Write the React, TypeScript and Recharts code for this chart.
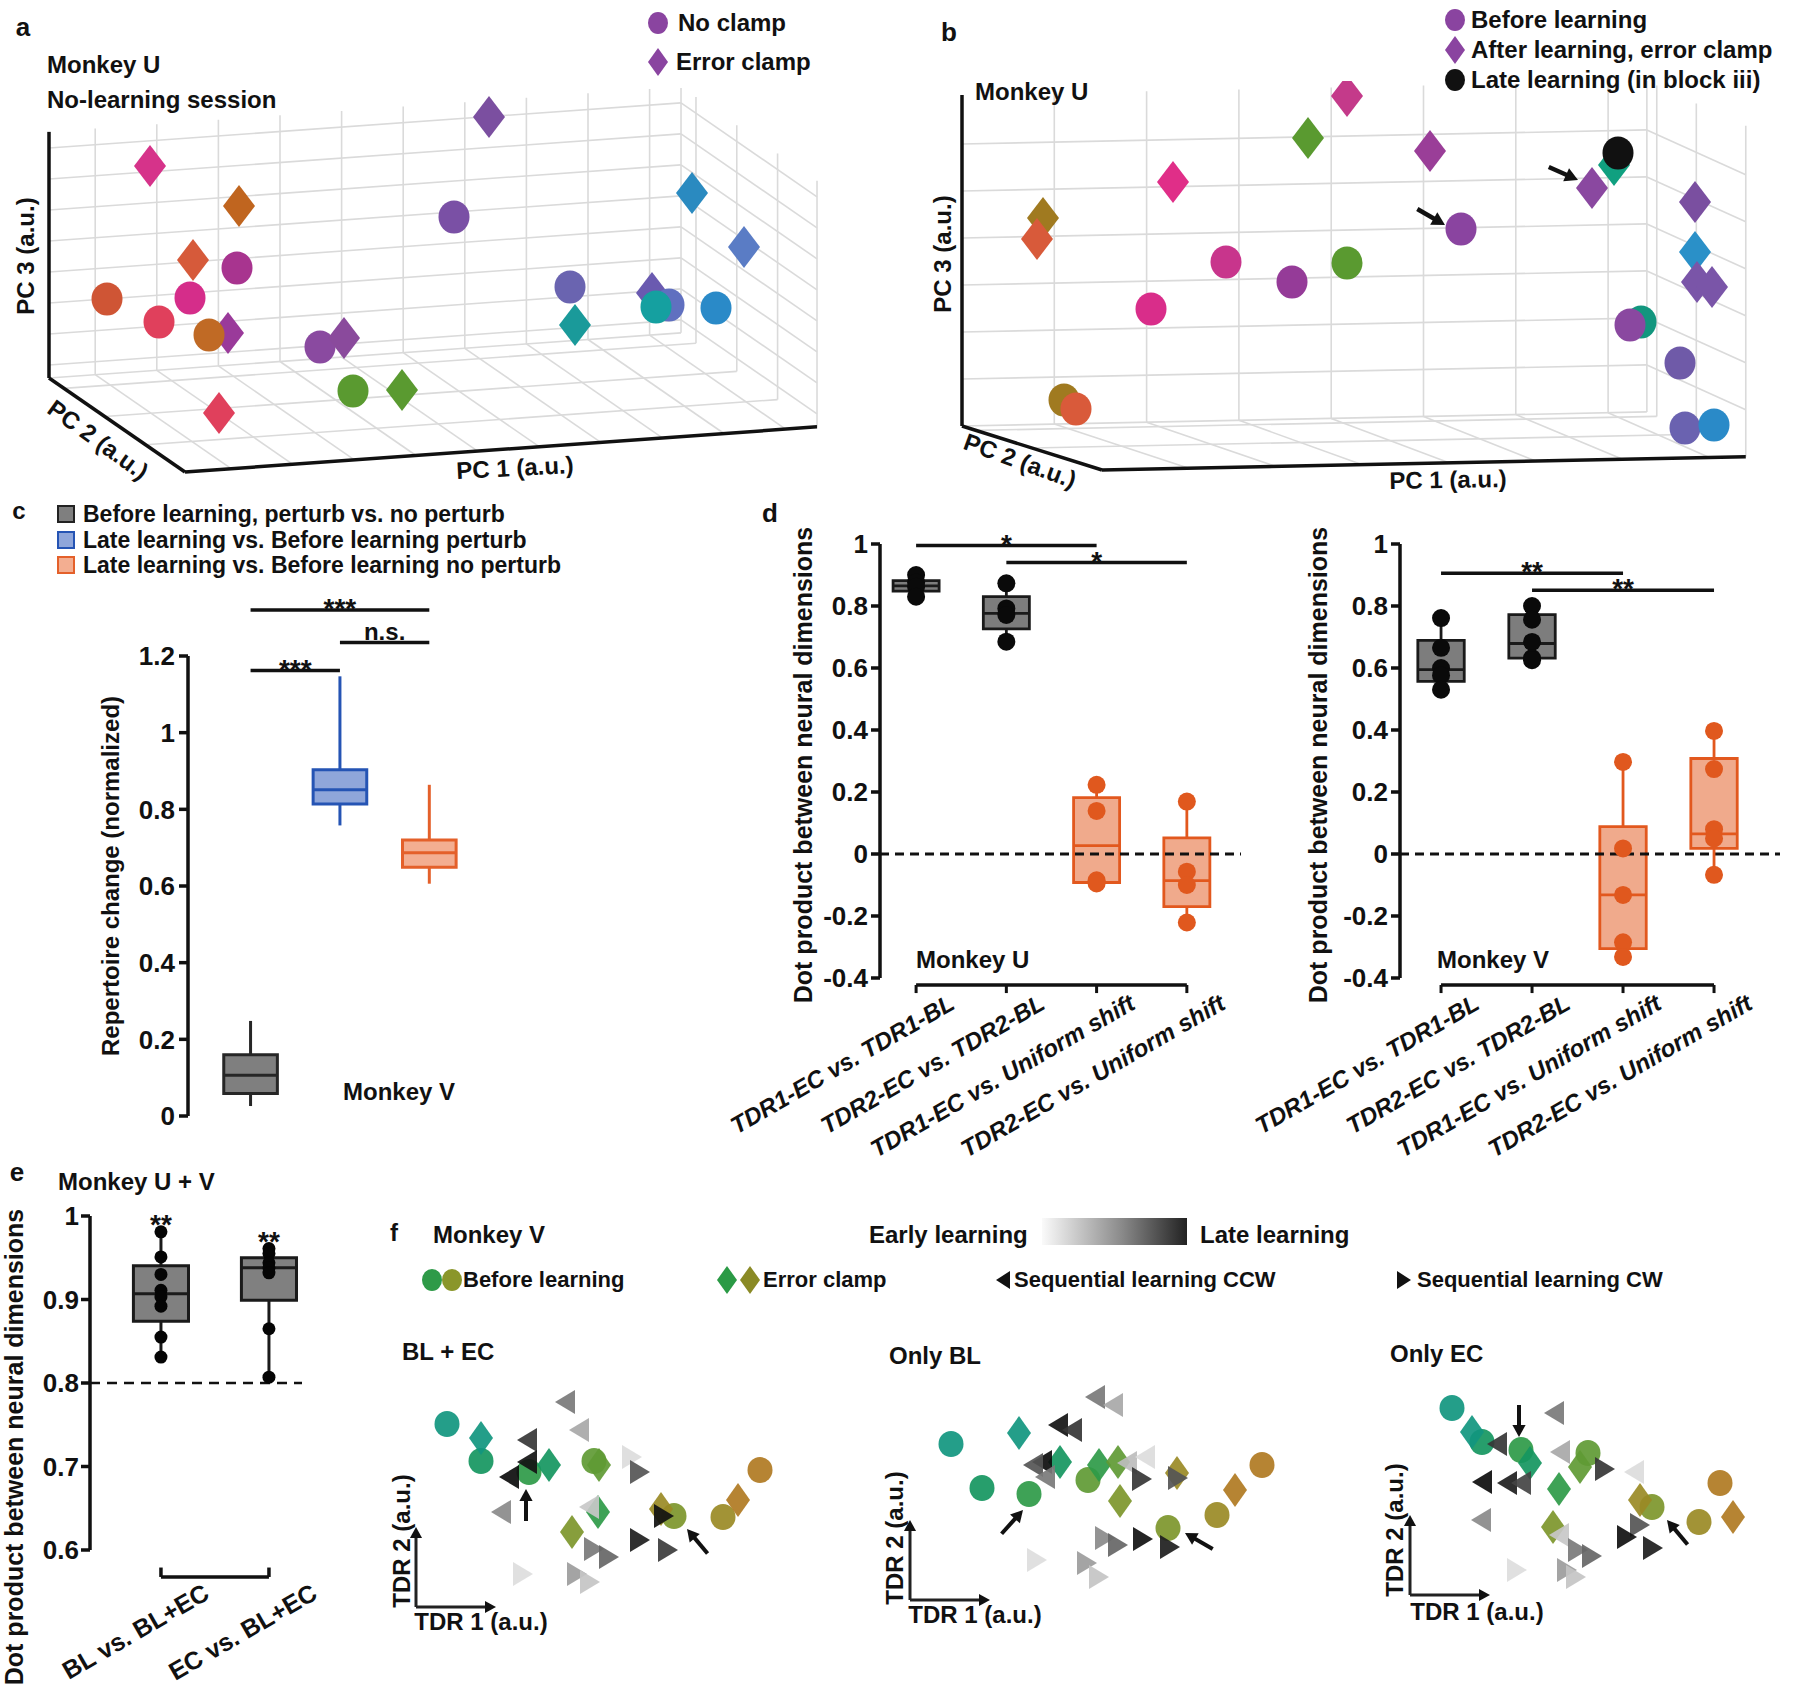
import React from 'react'
import { ScatterChart, Scatter, XAxis, YAxis, ReferenceLine, ReferenceArea } from 'recharts'

const FONT = "'Liberation Sans', Arial, Helvetica, sans-serif"
const INK = '#111111'

// ---------- a: PCA view, Monkey U, no-learning session (projected coords, a.u.) ----------
// kind: o = no clamp, d = error clamp
const aMarks: [string, number, number, string][] = [
  ['d', 10.1, 21.2, '#d6338a'],
  ['d', 19.0, 17.2, '#c0651f'],
  ['d', 44.0, 26.1, '#7b4fa0'],
  ['d', 14.4, 11.8, '#d65a3a'],
  ['d', 17.9, 4.5, '#9a3a9a'],
  ['d', 35.3, -1.2, '#5a9a30'],
  ['d', 17.0, -3.5, '#e0405c'],
  ['d', 64.3, 18.5, '#2a8ac0'],
  ['d', 69.5, 13.1, '#5a7cc5'],
  ['d', 60.3, 8.5, '#6a5ab0'],
  ['d', 52.6, 5.3, '#1a9a9a'],
  ['o', 40.5, 16.1, '#7a50a5'],
  ['o', 18.8, 11.0, '#a8348f'],
  ['o', 5.8, 7.9, '#cf5535'],
  ['o', 14.1, 8.0, '#d52d8a'],
  ['o', 11.0, 5.6, '#e0405c'],
  ['o', 16.0, 4.3, '#c06a25'],
  ['o', 27.1, 3.1, '#8a4aa0'],
  ['d', 29.5, 4.0, '#8a4a9c'],
  ['o', 30.4, -1.3, '#5a9a30'],
  ['o', 52.1, 9.1, '#6a64b0'],
  ['o', 62.0, 7.3, '#6070c0'],
  ['o', 60.7, 7.1, '#15a0a0'],
  ['o', 66.7, 7.0, '#2a8ac8'],
]

// ---------- b: PCA view, Monkey U, learning session ----------
const bMarks: [string, number, number, string][] = [
  ['o', 49.9, 19.7, '#8a44a0'],
  ['o', 26.4, 16.4, '#c8358c'],
  ['o', 33.0, 14.4, '#953b98'],
  ['o', 38.5, 16.3, '#5a9a30'],
  ['o', 18.9, 11.7, '#d92d8a'],
  ['o', 67.9, 10.4, '#12967e'],
  ['o', 66.8, 10.1, '#8a48a0'],
  ['o', 71.8, 6.3, '#6f5aa8'],
  ['o', 72.3, -0.2, '#6a62b0'],
  ['o', 75.2, 0.1, '#2a8ac8'],
  ['o', 10.2, 2.6, '#a07a20'],
  ['o', 11.4, 1.7, '#d95a3a'],
  ['d', 38.5, 33.0, '#c43a8a'],
  ['d', 34.6, 28.8, '#5a9a30'],
  ['d', 46.8, 27.5, '#9a3e98'],
  ['d', 21.1, 24.4, '#e02e88'],
  ['d', 8.1, 20.8, '#a07a20'],
  ['d', 7.5, 18.7, '#d85a3a'],
  ['d', 65.2, 26.1, '#10a080'],
  ['d', 63.0, 23.8, '#8a48a0'],
  ['d', 73.3, 22.4, '#7a4fa0'],
  ['d', 73.3, 17.4, '#2a90c8'],
  ['d', 73.5, 14.4, '#7a55a8'],
  ['d', 75.0, 13.9, '#7a55a8'],
  ['o', 65.6, 27.3, '#111111'],
]
const bArrows: [number, number, number][] = [[48.3, 20.1, 30], [61.6, 24.6, 24]]

// ---------- c: repertoire change, Monkey V ----------
const cLegend = [
  'Before learning, perturb vs. no perturb',
  'Late learning vs. Before learning perturb',
  'Late learning vs. Before learning no perturb',
]
const cTicks = [0, 0.2, 0.4, 0.6, 0.8, 1, 1.2]
const cBoxes = [
  { x: 1, lo: 0.026, q1: 0.059, med: 0.106, q3: 0.16, hi: 0.248 },
  { x: 2, lo: 0.758, q1: 0.814, med: 0.851, q3: 0.903, hi: 1.147 },
  { x: 3, lo: 0.606, q1: 0.649, med: 0.687, q3: 0.72, hi: 0.864 },
]
const cSig = [
  { x1: 1, x2: 3, y: 1.32, label: '***' },
  { x1: 2, x2: 3, y: 1.235, label: 'n.s.' },
  { x1: 1, x2: 2, y: 1.162, label: '***' },
]

// ---------- d: dot products, Monkey U and V ----------
const dCategories = ['TDR1-EC vs. TDR1-BL', 'TDR2-EC vs. TDR2-BL', 'TDR1-EC vs. Uniform shift', 'TDR2-EC vs. Uniform shift']
const dTicks = [-0.4, -0.2, 0, 0.2, 0.4, 0.6, 0.8, 1]
const dUBoxes = [
  { x: 1, lo: 0.83, q1: 0.848, med: 0.865, q3: 0.882, hi: 0.9 },
  { x: 2, lo: 0.685, q1: 0.726, med: 0.776, q3: 0.83, hi: 0.873 },
  { x: 3, lo: -0.092, q1: -0.092, med: 0.027, q3: 0.182, hi: 0.223 },
  { x: 4, lo: -0.221, q1: -0.17, med: -0.086, q3: 0.052, hi: 0.169 },
]
const dUDots = [
  [0.9, 0.876, 0.862, 0.83],
  [0.873, 0.792, 0.771, 0.685],
  [0.223, 0.139, -0.085, -0.095],
  [0.169, -0.057, -0.1, -0.221],
]
const dUSig = [
  { x1: 1, x2: 3, y: 0.995, label: '*' },
  { x1: 2, x2: 4, y: 0.94, label: '*' },
]
const dVBoxes = [
  { x: 1, lo: 0.53, q1: 0.557, med: 0.595, q3: 0.689, hi: 0.761 },
  { x: 2, lo: 0.625, q1: 0.632, med: 0.679, q3: 0.772, hi: 0.8 },
  { x: 3, lo: -0.332, q1: -0.305, med: -0.132, q3: 0.088, hi: 0.297 },
  { x: 4, lo: -0.067, q1: 0.018, med: 0.065, q3: 0.308, hi: 0.397 },
]
const dVDots = [
  [0.761, 0.665, 0.6, 0.576, 0.53],
  [0.8, 0.756, 0.684, 0.632, 0.625],
  [0.297, 0.018, -0.132, -0.285, -0.332],
  [0.397, 0.274, 0.08, 0.05, -0.067],
]
const dVSig = [
  { x1: 1, x2: 3, y: 0.906, label: '**' },
  { x1: 2, x2: 4, y: 0.851, label: '**' },
]

// ---------- e: Monkey U + V ----------
const eLabels = ['BL vs. BL+EC', 'EC vs. BL+EC']
const eTicks = [0.6, 0.7, 0.8, 0.9, 1]
const eBoxes = [
  { x: 1, lo: 0.831, q1: 0.874, med: 0.907, q3: 0.9405, hi: 0.981 },
  { x: 2, lo: 0.807, q1: 0.899, med: 0.938, q3: 0.95, hi: 0.961 },
]
const eDots = [
  [0.981, 0.951, 0.93, 0.911, 0.903, 0.892, 0.855, 0.831],
  [0.961, 0.955, 0.944, 0.938, 0.932, 0.865, 0.807],
]
const eSig = ['**', '**']

// ---------- f: TDR projections, Monkey V ----------
const fPalette = ['#11967f', '#15965f', '#2e9a48', '#5f9a34', '#7d962b', '#9a8a25', '#b07a22']
const f1Circles = [[3.1, 18.3], [6.5, 14.6], [11.3, 13.5], [17.8, 14.6], [25.8, 9.1], [30.7, 9.0], [34.4, 13.7]]
const f1Diamonds = [[6.5, 16.9, 0], [13.3, 14.2, 1], [18.3, 14.2, 3], [18.2, 9.5, 2], [15.6, 7.5, 4], [24.5, 9.8, 5], [32.2, 10.7, 6]]
const f1Ccw: [number, number, string][] = [[14.9, 20.5, '#7a7a7a'], [16.3, 17.7, '#a8a8a8'], [11.1, 16.7, '#363636'], [11.1, 14.5, '#141414'], [9.3, 13.0, '#0d0d0d'], [8.5, 9.5, '#8a8a8a'], [17.3, 10.0, '#c8c8c8']]
const f1Cw: [number, number, string][] = [[21.6, 15.0, '#dcdcdc'], [22.4, 13.5, '#555555'], [24.8, 9.1, '#111111'], [22.4, 6.7, '#1e1e1e'], [25.2, 5.7, '#3c3c3c'], [17.8, 5.8, '#7a7a7a'], [19.3, 5.0, '#666666'], [10.7, 3.3, '#dddddd'], [16.1, 3.3, '#9c9c9c'], [17.4, 2.5, '#c4c4c4']]
const f1Arrows: [number, number, number][] = [[11.0, 11.8, -90], [27.1, 7.8, -130]]

const f2Circles = [[4.1, 15.6], [7.2, 11.2], [11.9, 10.6], [17.8, 12.0], [25.8, 7.2], [30.7, 8.5], [35.2, 13.5]]
const f2Diamonds = [[10.9, 16.7, 0], [15.0, 13.8, 1], [18.9, 13.5, 2], [20.8, 13.8, 3], [21.0, 9.9, 4], [26.7, 12.7, 5], [32.5, 11.0, 6]]
const f2Ccw: [number, number, string][] = [[18.5, 20.3, '#7a7a7a'], [20.3, 19.5, '#a8a8a8'], [14.8, 17.5, '#141414'], [16.2, 17.0, '#363636'], [13.2, 13.8, '#0d0d0d'], [12.3, 13.5, '#555555'], [13.5, 12.3, '#7a7a7a'], [21.7, 13.7, '#bdbdbd'], [23.5, 14.3, '#dcdcdc']]
const f2Cw: [number, number, string][] = [[23.2, 12.1, '#363636'], [26.8, 12.2, '#555555'], [19.5, 6.2, '#8a8a8a'], [20.8, 5.5, '#666666'], [23.3, 6.1, '#111111'], [26.0, 5.3, '#1e1e1e'], [12.7, 4.0, '#dddddd'], [17.7, 3.7, '#9c9c9c'], [18.9, 2.3, '#c4c4c4']]
const f2Arrows: [number, number, number][] = [[11.3, 9.0, -48], [27.5, 6.7, -150]]

const f3Circles = [[4.2, 18.7], [7.2, 15.3], [11.1, 14.5], [17.8, 14.2], [24.2, 8.8], [28.9, 7.3], [31.0, 11.2]]
const f3Diamonds = [[6.2, 16.3, 0], [12.0, 13.2, 1], [14.9, 10.6, 2], [17.0, 12.8, 3], [14.3, 6.8, 4], [23.0, 9.5, 5], [32.3, 7.8, 6]]
const f3Ccw: [number, number, string][] = [[14.4, 18.2, '#7a7a7a'], [8.7, 15.1, '#363636'], [15.0, 14.3, '#a8a8a8'], [7.2, 11.3, '#0d0d0d'], [9.7, 11.2, '#1e1e1e'], [11.1, 11.2, '#444444'], [7.1, 7.5, '#8a8a8a'], [22.4, 12.3, '#dcdcdc'], [14.9, 6.0, '#c8c8c8']]
const f3Cw: [number, number, string][] = [[19.5, 12.6, '#363636'], [23.0, 7.0, '#555555'], [21.7, 5.8, '#111111'], [24.3, 4.7, '#1e1e1e'], [16.8, 4.5, '#7a7a7a'], [18.2, 3.9, '#666666'], [10.7, 2.5, '#dddddd'], [15.7, 2.5, '#9c9c9c'], [16.6, 1.8, '#c4c4c4']]
const f3Arrows: [number, number, number][] = [[10.9, 15.8, 90], [25.7, 7.5, -130]]

// ---------- drawing helpers ----------
type Sz = { r: number; ry: number; dw: number; dh: number; tw: number; th: number; op: number }
const sz3d: Sz = { r: 15.5, ry: 16.5, dw: 16, dh: 21, tw: 20, th: 12, op: 1 }
const szF: Sz = { r: 12.5, ry: 13, dw: 12, dh: 17, tw: 20, th: 12, op: 0.92 }
const szLegend: Sz = { r: 10, ry: 11, dw: 10, dh: 14, tw: 14, th: 9, op: 1 }

function drawMark(kind: string, cx: number, cy: number, color: string, s: Sz) {
  if (kind === 'o') return <ellipse cx={cx} cy={cy} rx={s.r} ry={s.ry} fill={color} fillOpacity={s.op} />
  if (kind === 'd')
    return <polygon points={`${cx},${cy - s.dh} ${cx + s.dw},${cy} ${cx},${cy + s.dh} ${cx - s.dw},${cy}`} fill={color} fillOpacity={s.op} />
  if (kind === 'l')
    return <polygon points={`${cx - s.tw / 2},${cy} ${cx + s.tw / 2},${cy - s.th} ${cx + s.tw / 2},${cy + s.th}`} fill={color} fillOpacity={s.op} />
  return <polygon points={`${cx + s.tw / 2},${cy} ${cx - s.tw / 2},${cy - s.th} ${cx - s.tw / 2},${cy + s.th}`} fill={color} fillOpacity={s.op} />
}

const arrowShape = (len: number, head: number, width: number) => (p: any) => {
  const { cx, cy, payload } = p
  const a = (payload.ang * Math.PI) / 180
  const dx = Math.cos(a)
  const dy = Math.sin(a)
  const hw = head * 0.55
  const bx = cx - dx * head
  const by = cy - dy * head
  return (
    <g>
      {len > head && <line x1={cx - dx * len} y1={cy - dy * len} x2={bx + dx * 2} y2={by + dy * 2} stroke={INK} strokeWidth={width} />}
      <polygon points={`${cx},${cy} ${bx - dy * hw},${by + dx * hw} ${bx + dy * hw},${by - dx * hw}`} fill={INK} />
    </g>
  )
}

type Box = {
  e1: [number, number]; e2: [number, number]; e3: [number, number]; persp: number
  umax: number; wmax: number; uLines: number[]; wLines: number[]; vWall: number[]; vFloor: number[]
}
const aBox: Box = {
  e1: [6.16, 0.44], e2: [13.6, -9.4], e3: [0, 3.1], persp: 0, umax: 10.26, wmax: 7.94,
  uLines: [0.75, 1.75, 2.75, 3.75, 4.75, 5.75, 6.75, 7.75, 8.75, 9.75],
  wLines: [0.42, 1.42, 2.42, 3.42, 4.42, 5.42, 6.42, 7.42],
  vWall: [0, 0.11, 0.41, 0.71, 1], vFloor: [0, 0.11, 0.41, 0.71],
}
const bBox: Box = {
  e1: [9.23, 0.19], e2: [14.0, -4.4], e3: [0, 4.7], persp: 0.06, umax: 7.42, wmax: 7.04,
  uLines: [1, 2, 3, 4, 5, 6, 7], wLines: [1, 2, 3, 4, 5, 6],
  vWall: [0, 0.1, 0.5, 1], vFloor: [0, 0.1, 0.5],
}

function boxSegments(b: Box) {
  const P = (u: number, v: number, w: number) => {
    const k = 1 - b.persp * v
    return { x: u * b.e1[0] * k + v * b.e2[0] + w * b.e3[0], y: u * b.e1[1] * k + v * b.e2[1] + w * b.e3[1] }
  }
  const grid: any[] = []
  b.uLines.forEach((u) => {
    grid.push([P(u, 0, 0), P(u, 0, b.wmax)])
    grid.push([P(u, 0, 0), P(u, 1, 0)])
  })
  b.wLines.forEach((w) => {
    grid.push([P(0, 0, w), P(b.umax, 0, w)])
    grid.push([P(b.umax, 0, w), P(b.umax, 1, w)])
  })
  b.vWall.forEach((v) => grid.push([P(b.umax, v, 0), P(b.umax, v, b.wmax)]))
  b.vFloor.forEach((v) => grid.push([P(0, v, 0), P(b.umax, v, 0)]))
  const axes = [[P(0, 0, 0), P(0, 0, b.wmax)], [P(0, 0, 0), P(0, 1, 0)], [P(0, 1, 0), P(b.umax, 1, 0)]]
  return { grid, axes }
}

function Panel3D({ left, top, width, height, xDomain, yDomain, box, marks, arrows }: any) {
  const { grid, axes } = boxSegments(box)
  const pts = marks.map(([kind, x, y, color]: any) => ({ kind, x, y, color }))
  const arr = arrows.map(([x, y, ang]: any) => ({ x, y, ang }))
  return (
    <div style={{ position: 'absolute', left, top }}>
      <ScatterChart width={width} height={height} margin={{ top: 0, right: 0, bottom: 0, left: 0 }}>
        <XAxis type="number" dataKey="x" domain={xDomain} hide />
        <YAxis type="number" dataKey="y" domain={yDomain} hide />
        {grid.map((s: any, i: number) => (
          <ReferenceLine key={`g${i}`} segment={s} stroke="#dadada" strokeWidth={1.6} ifOverflow="visible" />
        ))}
        {axes.map((s: any, i: number) => (
          <ReferenceLine key={`a${i}`} segment={s} stroke={INK} strokeWidth={3.5} ifOverflow="visible" />
        ))}
        <Scatter data={pts} isAnimationActive={false} shape={(p: any) => drawMark(p.payload.kind, p.cx, p.cy, p.payload.color, sz3d)} />
        {arr.length > 0 && <Scatter data={arr} isAnimationActive={false} shape={arrowShape(32, 13, 4.5)} />}
      </ScatterChart>
    </div>
  )
}

type BoxStat = { x: number; lo: number; q1: number; med: number; q3: number; hi: number }
function boxPlot(stats: BoxStat[], width: number, fills: string[], strokes: string[], sw: number, key: string) {
  const out: React.ReactNode[] = []
  stats.forEach((s, i) => {
    const st = strokes[i]
    out.push(<ReferenceLine key={`${key}wl${i}`} segment={[{ x: s.x, y: s.lo }, { x: s.x, y: s.q1 }]} stroke={st} strokeWidth={sw} ifOverflow="visible" />)
    out.push(<ReferenceLine key={`${key}wh${i}`} segment={[{ x: s.x, y: s.q3 }, { x: s.x, y: s.hi }]} stroke={st} strokeWidth={sw} ifOverflow="visible" />)
    out.push(
      <ReferenceArea key={`${key}b${i}`} x1={s.x - width / 2} x2={s.x + width / 2} y1={s.q1} y2={s.q3} fill={fills[i]} fillOpacity={1} stroke={st} strokeWidth={sw} ifOverflow="visible" />
    )
    out.push(
      <ReferenceLine key={`${key}m${i}`} segment={[{ x: s.x - width / 2, y: s.med }, { x: s.x + width / 2, y: s.med }]} stroke={st} strokeWidth={sw} ifOverflow="visible" />
    )
  })
  return out
}

function sigBars(sig: { x1: number; x2: number; y: number; label: string }[], key: string, starSize: number) {
  return sig.map((s, i) => (
    <ReferenceLine
      key={`${key}${i}`}
      segment={[{ x: s.x1, y: s.y }, { x: s.x2, y: s.y }]}
      stroke={INK}
      strokeWidth={3.5}
      ifOverflow="visible"
      label={{
        value: s.label,
        position: 'top',
        offset: s.label.startsWith('*') ? -8 : 3,
        fill: INK,
        fontSize: s.label.startsWith('*') ? starSize : 24,
        fontWeight: 700,
      }}
    />
  ))
}

const fmt = (v: number) => String(Math.round(v * 10) / 10)

const catTick = (labels: string[], dx: number, dy: number, italic: boolean, size: number) => (p: any) => {
  const idx = Math.round(p.payload.value) - 1
  const ax = p.x + dx
  const ay = p.y + dy
  return (
    <text x={ax} y={ay} textAnchor="end" transform={`rotate(-30, ${ax}, ${ay})`} fontSize={size} fontWeight={700} fontStyle={italic ? 'italic' : 'normal'} fill={INK}>
      {labels[idx]}
    </text>
  )
}

const yAxisProps = {
  type: 'number' as const,
  dataKey: 'y',
  interval: 0 as const,
  tickSize: 9,
  axisLine: { stroke: INK, strokeWidth: 3.5 },
  tickLine: { stroke: INK, strokeWidth: 3.5 },
  tick: { fill: INK, fontSize: 26, fontWeight: 700 },
  tickFormatter: fmt,
}

function PanelD({ left, width, xDomain, boxes, dots, sig }: any) {
  const pts = dots.flatMap((vals: number[], i: number) => vals.map((y) => ({ x: i + 1, y, color: i < 2 ? '#0a0a0a' : '#e0581e' })))
  const yb = -0.4226
  return (
    <div style={{ position: 'absolute', left, top: 500 }}>
      <ScatterChart width={width} height={700} margin={{ top: 44, right: 10, bottom: 0, left: 0 }}>
        <XAxis type="number" dataKey="x" domain={xDomain} ticks={[1, 2, 3, 4]} interval={0} height={222} axisLine={false} tickLine={false} tickSize={0} tickMargin={0} tick={catTick(dCategories, 40, 30, true, 24)} />
        <YAxis {...yAxisProps} domain={[-0.4, 1]} ticks={dTicks} width={200} tickMargin={3} />
        <ReferenceLine y={0} stroke={INK} strokeWidth={3} strokeDasharray="9 6" />
        {boxPlot(boxes, 0.51, ['#7d7d7d', '#7d7d7d', '#f0aa8c', '#f0aa8c'], ['#1a1a1a', '#1a1a1a', '#e2581e', '#e2581e'], 2.8, 'bx')}
        {sigBars(sig, 'sg', 28)}
        <ReferenceLine segment={[{ x: 1, y: yb }, { x: 4, y: yb }]} stroke={INK} strokeWidth={3.5} ifOverflow="visible" />
        {[1, 2, 3, 4].map((c) => (
          <ReferenceLine key={`bt${c}`} segment={[{ x: c, y: yb }, { x: c, y: yb - 0.026 }]} stroke={INK} strokeWidth={3} ifOverflow="visible" />
        ))}
        <Scatter data={pts} isAnimationActive={false} shape={(p: any) => <circle cx={p.cx} cy={p.cy} r={9} fill={p.payload.color} />} />
      </ScatterChart>
    </div>
  )
}

function PanelF({ left, top, circles, diamonds, ccw, cw, arrows }: any) {
  const pts = [
    ...circles.map(([x, y]: number[], i: number) => ({ kind: 'o', x, y, color: fPalette[i] })),
    ...diamonds.map(([x, y, ci]: number[]) => ({ kind: 'd', x, y, color: fPalette[ci] })),
    ...ccw.map(([x, y, c]: any) => ({ kind: 'l', x, y, color: c })),
    ...cw.map(([x, y, c]: any) => ({ kind: 'r', x, y, color: c })),
  ]
  const arr = arrows.map(([x, y, ang]: number[]) => ({ x, y, ang }))
  const heads = [{ x: 0, y: 8, ang: -90 }, { x: 8, y: 0, ang: 0 }]
  return (
    <div style={{ position: 'absolute', left, top }}>
      <ScatterChart width={420} height={320} margin={{ top: 0, right: 0, bottom: 0, left: 0 }}>
        <XAxis type="number" dataKey="x" domain={[-4, 38]} hide />
        <YAxis type="number" dataKey="y" domain={[-8, 24]} hide />
        <ReferenceLine segment={[{ x: 0, y: 0 }, { x: 0, y: 7.2 }]} stroke="#222" strokeWidth={3} ifOverflow="visible" />
        <ReferenceLine segment={[{ x: 0, y: 0 }, { x: 7.2, y: 0 }]} stroke="#222" strokeWidth={3} ifOverflow="visible" />
        <Scatter data={pts} isAnimationActive={false} shape={(p: any) => drawMark(p.payload.kind, p.cx, p.cy, p.payload.color, szF)} />
        <Scatter data={arr} isAnimationActive={false} shape={arrowShape(32, 12, 4)} />
        <Scatter data={heads} isAnimationActive={false} shape={arrowShape(0, 11, 3)} />
      </ScatterChart>
    </div>
  )
}

function Txt({ x, y, t, size = 24, anchor = 'start', rot = 0, italic = false }: any) {
  const tx = anchor === 'start' ? '0%' : anchor === 'end' ? '-100%' : '-50%'
  return (
    <div
      style={{
        position: 'absolute', left: x, top: y, transform: `translate(${tx}, -50%) rotate(${rot}deg)`,
        fontSize: size, fontWeight: 700, fontStyle: italic ? 'italic' : 'normal', lineHeight: 1, whiteSpace: 'nowrap', color: INK,
      }}
    >
      {t}
    </div>
  )
}

function Glyph({ x, y, kind, color }: any) {
  return (
    <svg style={{ position: 'absolute', left: x - 12, top: y - 16 }} width={24} height={32}>
      {drawMark(kind, 12, 16, color, szLegend)}
    </svg>
  )
}

export default function App() {
  const ePts = eDots.flatMap((vals, i) => vals.map((y) => ({ x: i + 1, y })))
  const eStars = eBoxes.map((b, i) => ({ x: b.x, y: b.hi, label: eSig[i] }))
  return (
    <div style={{ position: 'absolute', left: 0, top: 0, width: 1800, height: 1691, background: '#fff', fontFamily: FONT, color: INK, overflow: 'hidden' }}>
      {/* a */}
      <Panel3D left={9} top={88} width={830} height={400} xDomain={[-4, 79]} yDomain={[-11, 29]} box={aBox} marks={aMarks} arrows={[]} />
      <Txt x={23} y={27} t="a" size={26} anchor="middle" />
      <Txt x={47} y={65} t="Monkey U" />
      <Txt x={47} y={100} t="No-learning session" />
      <Glyph x={658} y={23} kind="o" color="#8a44a0" />
      <Txt x={678} y={23} t="No clamp" />
      <Glyph x={658} y={62} kind="d" color="#8a44a0" />
      <Txt x={676} y={62} t="Error clamp" />
      <Txt x={26} y={256} t="PC 3 (a.u.)" anchor="middle" rot={-90} />
      <Txt x={98} y={440} t="PC 2 (a.u.)" anchor="middle" rot={36} />
      <Txt x={515} y={468} t="PC 1 (a.u.)" anchor="middle" rot={-3} />

      {/* b */}
      <Panel3D left={902} top={81} width={895} height={415} xDomain={[-6, 83.5]} yDomain={[-7, 34.5]} box={bBox} marks={bMarks} arrows={bArrows} />
      <Txt x={949} y={32} t="b" size={26} anchor="middle" />
      <Glyph x={1455} y={20} kind="o" color="#8a44a0" />
      <Txt x={1471} y={20} t="Before learning" />
      <Glyph x={1455} y={50} kind="d" color="#8a44a0" />
      <Txt x={1471} y={50} t="After learning, error clamp" />
      <Glyph x={1455} y={80} kind="o" color="#111111" />
      <Txt x={1471} y={80} t="Late learning (in block iii)" />
      <Txt x={975} y={92} t="Monkey U" />
      <Txt x={943} y={254} t="PC 3 (a.u.)" anchor="middle" rot={-90} />
      <Txt x={1020} y={461} t="PC 2 (a.u.)" anchor="middle" rot={20} />
      <Txt x={1448} y={480} t="PC 1 (a.u.)" anchor="middle" rot={-1} />

      {/* c */}
      <Txt x={19} y={511} t="c" size={24} anchor="middle" />
      {cLegend.map((t, i) => (
        <React.Fragment key={t}>
          <svg style={{ position: 'absolute', left: 56, top: 504 + i * 25.5 }} width={20} height={20}>
            <rect x={2} y={2} width={16} height={16} fill={['#7f7f7f', '#8fa6da', '#f3ae91'][i]} stroke={['#222', '#2554b4', '#e4602a'][i]} strokeWidth={2} />
          </svg>
          <Txt x={83} y={514 + i * 25.5} t={t} size={23} />
        </React.Fragment>
      ))}
      <div style={{ position: 'absolute', left: 120, top: 580 }}>
        <ScatterChart width={364} height={556} margin={{ top: 76, right: 10, bottom: 20, left: 0 }}>
          <XAxis type="number" dataKey="x" domain={[0.3, 3.5]} hide />
          <YAxis {...yAxisProps} domain={[0, 1.2]} ticks={cTicks} width={68} tickMargin={4} />
          {boxPlot(cBoxes, 0.6, ['#7f7f7f', '#8fa6da', '#f3ae91'], ['#262626', '#2554b4', '#e4602a'], 3, 'c')}
          {sigBars(cSig, 'cs', 28)}
          <Scatter data={cBoxes.map((b) => ({ x: b.x, y: b.med }))} isAnimationActive={false} shape={() => <g />} />
        </ScatterChart>
      </div>
      <Txt x={399} y={1092} t="Monkey V" anchor="middle" />
      <Txt x={111} y={876} t="Repertoire change (normalized)" anchor="middle" rot={-90} />

      {/* d */}
      <Txt x={770} y={513} t="d" size={26} anchor="middle" />
      <PanelD left={680} width={571} xDomain={[0.6, 4.6]} boxes={dUBoxes} dots={dUDots} sig={dUSig} />
      <PanelD left={1200} width={590} xDomain={[0.549, 4.725]} boxes={dVBoxes} dots={dVDots} sig={dVSig} />
      <Txt x={803} y={765} t="Dot product between neural dimensions" size={25} anchor="middle" rot={-90} />
      <Txt x={1318} y={765} t="Dot product between neural dimensions" size={25} anchor="middle" rot={-90} />
      <Txt x={916} y={960} t="Monkey U" />
      <Txt x={1437} y={960} t="Monkey V" />

      {/* e */}
      <Txt x={17} y={1172} t="e" size={26} anchor="middle" />
      <Txt x={58} y={1182} t="Monkey U + V" />
      <div style={{ position: 'absolute', left: 0, top: 1195 }}>
        <ScatterChart width={322} height={496} margin={{ top: 21, right: 20, bottom: 0, left: 0 }}>
          <XAxis type="number" dataKey="x" domain={[0.343, 2.306]} ticks={[1, 2]} interval={0} height={141} axisLine={false} tickLine={false} tickSize={0} tickMargin={0} tick={catTick(eLabels, 50, 48, false, 25)} />
          <YAxis {...yAxisProps} domain={[0.6, 1]} ticks={eTicks} width={90} tickMargin={2} />
          <ReferenceLine y={0.8} stroke={INK} strokeWidth={2.5} strokeDasharray="10 7" />
          {boxPlot(eBoxes, 0.51, ['#808080', '#808080'], ['#1a1a1a', '#1a1a1a'], 3, 'e')}
          <ReferenceLine segment={[{ x: 1, y: 0.5677 }, { x: 2, y: 0.5677 }]} stroke={INK} strokeWidth={3.5} ifOverflow="visible" />
          <ReferenceLine segment={[{ x: 1, y: 0.5677 }, { x: 1, y: 0.579 }]} stroke={INK} strokeWidth={3.5} ifOverflow="visible" />
          <ReferenceLine segment={[{ x: 2, y: 0.5677 }, { x: 2, y: 0.579 }]} stroke={INK} strokeWidth={3.5} ifOverflow="visible" />
          <Scatter data={ePts} isAnimationActive={false} shape={(p: any) => <circle cx={p.cx} cy={p.cy} r={6.5} fill="#050505" />} />
          <Scatter
            data={eStars}
            isAnimationActive={false}
            shape={(p: any) => (
              <text x={p.cx} y={p.cy + 2} textAnchor="middle" fontSize={28} fontWeight={700} fill={INK}>
                {p.payload.label}
              </text>
            )}
          />
        </ScatterChart>
      </div>
      <Txt x={14} y={1447} t="Dot product between neural dimensions" size={25} anchor="middle" rot={-90} />

      {/* f */}
      <Txt x={394} y={1233} t="f" size={24} anchor="middle" />
      <Txt x={433} y={1235} t="Monkey V" />
      <Txt x={869} y={1235} t="Early learning" />
      <div style={{ position: 'absolute', left: 1042, top: 1218, width: 145, height: 27, background: 'linear-gradient(to right, #fafafa, #8a8a8a 55%, #222222)' }} />
      <Txt x={1200} y={1235} t="Late learning" />
      <Glyph x={432} y={1280} kind="o" color="#2e9a48" />
      <Glyph x={452} y={1280} kind="o" color="#8a962a" />
      <Txt x={463} y={1280} t="Before learning" size={22} />
      <Glyph x={727} y={1280} kind="d" color="#2a9a45" />
      <Glyph x={750} y={1280} kind="d" color="#8a8a25" />
      <Txt x={763} y={1280} t="Error clamp" size={22} />
      <Glyph x={1003} y={1280} kind="l" color="#111" />
      <Txt x={1014} y={1280} t="Sequential learning CCW" size={22} />
      <Glyph x={1404} y={1280} kind="r" color="#111" />
      <Txt x={1417} y={1280} t="Sequential learning CW" size={22} />

      <Txt x={402} y={1352} t="BL + EC" />
      <Txt x={889} y={1356} t="Only BL" />
      <Txt x={1390} y={1354} t="Only EC" />
      <PanelF left={376} top={1367} circles={f1Circles} diamonds={f1Diamonds} ccw={f1Ccw} cw={f1Cw} arrows={f1Arrows} />
      <PanelF left={870} top={1360} circles={f2Circles} diamonds={f2Diamonds} ccw={f2Ccw} cw={f2Cw} arrows={f2Arrows} />
      <PanelF left={1370} top={1355} circles={f3Circles} diamonds={f3Diamonds} ccw={f3Ccw} cw={f3Cw} arrows={f3Arrows} />
      <Txt x={402} y={1541} t="TDR 2 (a.u.)" anchor="middle" rot={-90} />
      <Txt x={895} y={1538} t="TDR 2 (a.u.)" anchor="middle" rot={-90} />
      <Txt x={1395} y={1530} t="TDR 2 (a.u.)" anchor="middle" rot={-90} />
      <Txt x={481} y={1622} t="TDR 1 (a.u.)" anchor="middle" />
      <Txt x={975} y={1615} t="TDR 1 (a.u.)" anchor="middle" />
      <Txt x={1477} y={1612} t="TDR 1 (a.u.)" anchor="middle" />
    </div>
  )
}
